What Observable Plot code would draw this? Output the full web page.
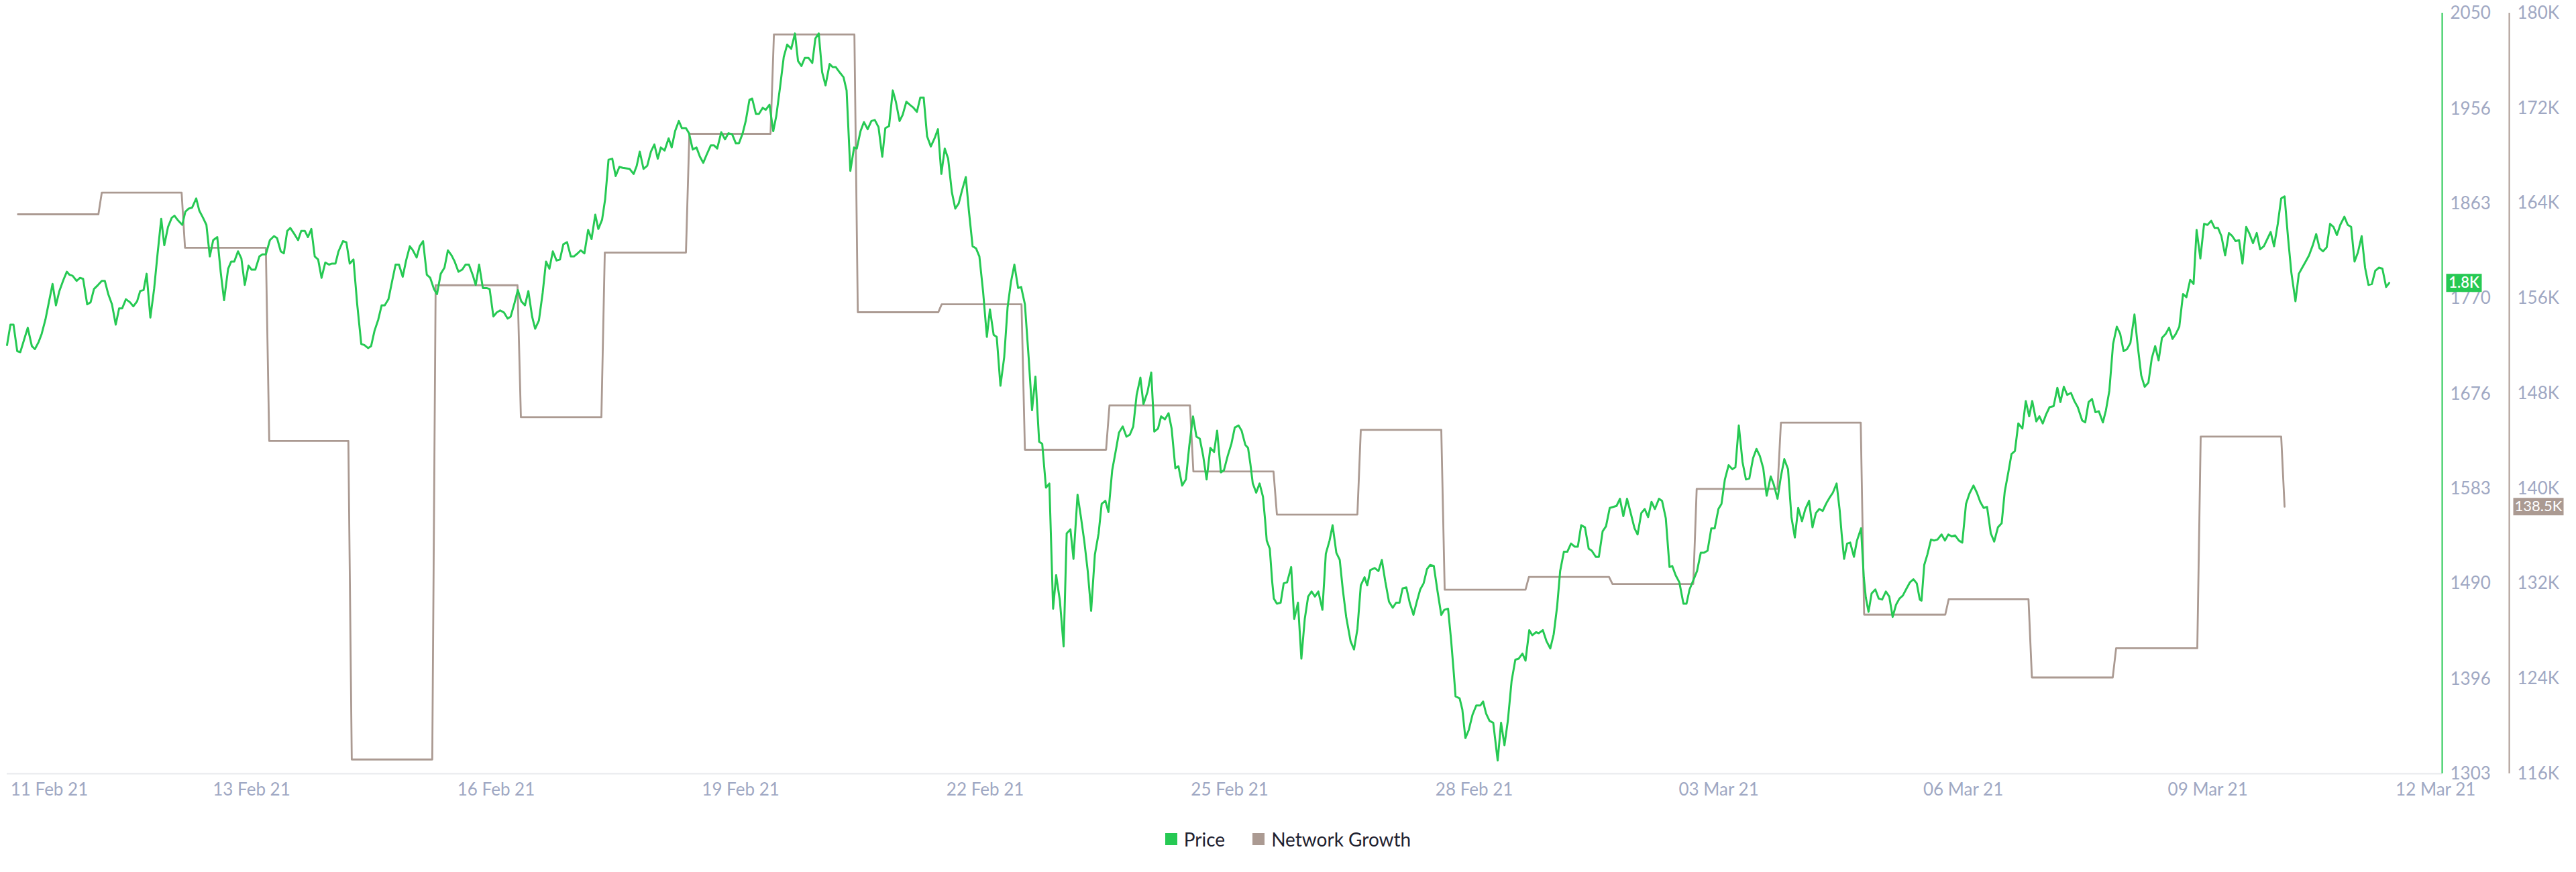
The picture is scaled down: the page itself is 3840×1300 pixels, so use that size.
<!DOCTYPE html>
<html><head><meta charset="utf-8">
<script src="https://cdn.jsdelivr.net/npm/d3@7"></script>
<script src="https://cdn.jsdelivr.net/npm/@observablehq/plot@0.6"></script>
<style>
body{margin:0;background:#fff;font-family:Lato,"Open Sans",sans-serif;}
#chart{position:relative;width:3840px;height:1210px;}
#chart svg{position:absolute;left:0;top:0;}
#legend{display:flex;justify-content:center;align-items:center;gap:41px;padding-top:27px;font-size:28px;color:#1f2230;line-height:28px;}
#legend .item{display:flex;align-items:center;gap:10px;}
#legend .sw{width:18px;height:18px;display:inline-block;}
</style></head><body>
<div id="chart"></div>
<div id="legend"></div>
<script>
// ---- data ----
const seriesNames = ["Price", "Network Growth"];
const seriesColors = ["#26c953", "#ab9a92"];
const startUTC = "2021-02-10T00:00Z";   // hour 0 of the series
const endHour = 717;                    // right edge of the time axis (hours after start)

// ETH price, [hours after start, USD]
const priceSeries = [
[0,1724],[1.0,1744],[1.9,1744],[3.0,1718],[3.9,1717],[5.0,1729],[6.1,1741],[7.3,1723],[8.2,1720],[9.3,1727],[10.2,1735],[11.3,1749],[12.2,1764],[13.4,1784],[14.4,1763],[15.4,1777],[16.6,1788],[17.6,1796],[18.4,1793],[19.3,1792],[20.5,1787],[21.5,1790],[22.4,1789],[23.6,1764],[24.6,1766],[25.6,1779],[26.8,1783],[27.9,1787],[28.8,1787],[29.8,1774],[30.9,1764],[32.0,1744],[33.0,1760],[33.9,1760],[35.0,1769],[36.2,1766],[37.2,1762],[38.3,1767],[39.2,1777],[40.2,1778],[41.1,1794],[42.2,1751],[43.3,1779],[44.3,1813],[45.4,1848],[46.3,1822],[47.4,1840],[48.5,1849],[49.3,1851],[50.2,1847],[51.6,1842],[52.5,1855],[53.5,1858],[54.5,1859],[55.7,1868],[56.6,1856],[57.7,1849],[58.7,1842],[59.7,1811],[60.7,1827],[61.9,1830],[62.9,1796],[63.9,1768],[65.1,1799],[66.0,1806],[66.9,1806],[68.0,1816],[69.0,1809],[70.0,1783],[71.1,1802],[72.0,1798],[73.1,1798],[74.3,1811],[75.2,1813],[76.2,1813],[77.4,1827],[78.6,1831],[79.5,1829],[80.6,1816],[81.5,1814],[82.5,1836],[83.4,1839],[84.6,1833],[85.7,1827],[86.6,1836],[87.7,1836],[88.6,1830],[89.6,1838],[90.6,1811],[91.6,1808],[92.6,1790],[93.7,1805],[94.8,1803],[95.7,1804],[96.7,1804],[97.6,1816],[98.9,1826],[99.9,1825],[100.9,1804],[102.0,1808],[103.1,1764],[104.3,1725],[105.2,1724],[106.3,1721],[107.2,1723],[108.2,1738],[109.3,1749],[110.3,1763],[111.2,1763],[112.3,1769],[113.4,1787],[114.4,1803],[115.4,1803],[116.5,1791],[117.5,1807],[118.6,1821],[119.5,1817],[120.6,1810],[121.5,1821],[122.5,1826],[123.6,1793],[124.6,1790],[125.7,1779],[126.6,1774],[127.7,1794],[128.8,1800],[129.8,1817],[130.9,1812],[131.8,1806],[132.9,1796],[134.0,1798],[135.0,1803],[136.0,1803],[137.1,1793],[138.0,1783],[139.0,1803],[140.1,1780],[141.2,1780],[142.1,1779],[143.2,1752],[144.2,1756],[145.2,1758],[146.3,1756],[147.4,1750],[148.3,1752],[149.4,1765],[150.4,1778],[151.4,1767],[152.5,1763],[153.5,1777],[154.6,1752],[155.5,1740],[156.6,1748],[157.7,1775],[158.7,1806],[159.7,1799],[160.7,1816],[161.8,1807],[162.8,1808],[163.8,1823],[164.9,1825],[166.0,1811],[166.9,1811],[168.0,1814],[168.9,1817],[170.0,1814],[171.1,1837],[172.1,1828],[173.2,1852],[174.1,1838],[175.2,1847],[176.1,1867],[177.1,1906],[178.2,1907],[179.2,1890],[180.3,1899],[181.3,1898],[183.3,1897],
[184.5,1892],[185.4,1900],[186.3,1914],[187.4,1897],[188.5,1900],[189.6,1914],[190.6,1921],[191.6,1907],[192.5,1918],[193.6,1915],[194.8,1927],[195.7,1918],[196.7,1934],[197.8,1944],[198.7,1937],[199.9,1937],[200.8,1932],[201.9,1916],[203.0,1918],[204.0,1909],[205.0,1903],[206.0,1911],[207.2,1920],[208.2,1920],[209.1,1917],[210.3,1933],[211.4,1926],[212.4,1932],[213.5,1931],[214.6,1922],[215.5,1922],[216.6,1932],[217.5,1944],[218.6,1965],[219.4,1966],[220.5,1951],[221.4,1951],[222.5,1957],[223.4,1955],[224.5,1960],[225.6,1934],[226.5,1949],[227.6,1977],[228.7,2007],[229.7,2019],[230.9,2015],[232.0,2030],[232.9,2003],[233.9,1998],[234.9,2006],[236.0,2006],[237.1,2001],[238.0,2025],[239.0,2030],[240.0,1992],[241.0,1979],[242.2,2000],[243.1,1997],[244.0,1997],[245.1,1992],[246.3,1987],[247.2,1974],[248.3,1895],[249.4,1918],[250.2,1917],[251.3,1934],[252.3,1943],[253.4,1936],[254.5,1944],[255.5,1945],[256.6,1938],[257.7,1909],[258.6,1937],[259.7,1939],[260.8,1974],[261.7,1963],[262.8,1944],[263.7,1950],[264.8,1963],[265.8,1960],[266.9,1957],[267.9,1953],[268.9,1967],[269.9,1967],[270.9,1929],[272.0,1919],[273.1,1927],[274.1,1936],[275.1,1892],[276.1,1917],[277.1,1907],[278.2,1874],[279.2,1858],[280.2,1863],[281.2,1876],[282.3,1889],[283.2,1856],[284.3,1821],[285.3,1819],[286.3,1811],[287.4,1776],[288.5,1732],[289.4,1759],[290.5,1734],[291.4,1732],[292.5,1684],[293.6,1712],[294.6,1761],[295.6,1786],[296.6,1803],[297.7,1780],[298.6,1781],[299.7,1764],[300.8,1712],[301.8,1660],[302.8,1693],[303.9,1629],[304.8,1627],[305.9,1584],[306.9,1588],[308.0,1465],[308.9,1498],[310.0,1473],[311.1,1428],[312.0,1539],[313.1,1543],[314.0,1514],[315.2,1577],[316.2,1555],[317.2,1531],[318.2,1502],[319.2,1463],[320.3,1518],[321.4,1539],[322.3,1568],[323.4,1571],[324.3,1560],[325.4,1601],[326.5,1621],[327.4,1638],[328.5,1644],[329.6,1634],[330.6,1636],[331.6,1644],[332.6,1675],[333.7,1692],[334.6,1666],[335.8,1678],[336.9,1697],[337.8,1639],[338.9,1642],[339.8,1654],[340.9,1651],[342.0,1657],[342.9,1642],[344.0,1603],[344.9,1605],[346.0,1586],[347.1,1592],[348.1,1625],[349.2,1654],[350.2,1634],[351.2,1632],[352.2,1615],[353.2,1592],[354.3,1623],[355.4,1619],[356.3,1640],[357.4,1599],[358.3,1601],[359.4,1615],[360.5,1627],[361.5,1643],[362.6,1645],[363.5,1640],[364.6,1626],[365.4,1623],
[366.1,1607],[366.8,1588],[367.8,1579],[368.8,1588],[369.8,1575],[370.4,1553],[370.9,1532],[371.8,1524],[372.5,1492],[373.0,1475],[373.9,1470],[375.0,1471],[375.9,1490],[376.9,1491],[378.1,1506],[379.0,1455],[380.1,1471],[381.1,1416],[382.1,1455],[383.1,1477],[384.1,1482],[385.1,1477],[386.1,1482],[387.3,1464],[388.3,1519],[389.4,1532],[390.3,1547],[391.4,1520],[392.4,1513],[393.3,1484],[394.3,1457],[395.6,1433],[396.6,1425],[397.6,1445],[398.6,1488],[399.7,1496],[400.5,1488],[401.4,1503],[402.7,1505],[403.8,1502],[404.8,1513],[405.8,1492],[406.9,1472],[408.0,1466],[409.0,1471],[410.0,1471],[410.9,1485],[412.0,1486],[413.0,1471],[414.1,1459],[415.1,1472],[416.1,1484],[417.1,1490],[418.1,1504],[419.0,1508],[420.1,1507],[421.2,1482],[422.3,1459],[423.2,1464],[424.3,1465],[425.2,1434],[426.0,1401],[426.5,1379],[427.7,1377],[428.5,1366],[429.4,1338],[430.4,1346],[431.5,1361],[432.6,1370],[433.8,1370],[434.6,1374],[435.5,1362],[436.5,1355],[437.6,1353],[438.9,1316],[439.9,1353],[440.9,1331],[441.9,1355],[443.0,1394],[444.1,1415],[445.1,1416],[446.2,1421],[447.1,1414],[448.2,1444],[449.1,1439],[450.2,1442],[451.0,1441],[452.2,1444],[453.3,1433],[454.4,1426],[455.4,1440],[456.4,1467],[457.3,1502],[458.4,1521],[459.4,1521],[460.5,1529],[461.6,1526],[462.5,1526],[463.5,1547],[464.6,1545],[465.7,1524],[466.6,1522],[467.8,1516],[468.7,1516],[469.8,1541],[470.8,1546],[471.9,1564],[472.9,1565],[473.9,1566],[474.9,1573],[475.9,1556],[477.0,1573],[478.0,1560],[479.2,1544],[480.1,1538],[481.2,1559],[482.2,1563],[483.2,1555],[484.2,1570],[485.2,1563],[486.4,1573],[487.3,1571],[488.4,1554],[489.5,1506],[490.3,1507],[491.3,1498],[492.4,1491],[493.6,1470],[494.5,1470],[495.4,1484],[496.5,1493],[497.6,1502],[498.7,1520],[499.6,1520],[500.7,1522],[501.8,1544],[502.8,1544],[503.9,1563],[504.8,1568],[505.8,1592],[506.9,1606],[508.0,1602],[508.9,1604],[509.9,1645],[511.0,1609],[512.0,1592],[513.0,1593],[514.1,1613],[515.1,1622],[516.1,1615],[517.1,1603],[518.1,1576],[519.3,1595],[520.2,1587],[521.3,1573],[522.3,1595],[523.3,1612],[524.4,1602],[525.4,1555],[526.4,1535],[527.4,1564],[528.5,1551],[529.5,1563],[530.6,1571],[531.6,1545],[532.6,1559],[533.6,1563],[534.6,1561],[535.3,1566],
[535.9,1570],[536.8,1575],[537.6,1579],[538.7,1588],[539.6,1562],[540.2,1538],[540.9,1514],[541.8,1529],[542.7,1530],[543.8,1516],[544.7,1532],[545.9,1544],[546.7,1496],[547.3,1476],[548.1,1462],[549.0,1480],[550.1,1484],[551.1,1475],[552.1,1474],[553.2,1482],[554.2,1477],[555.2,1457],[556.2,1469],[557.2,1475],[558.2,1478],[559.3,1485],[560.3,1491],[561.3,1494],[562.3,1490],[563.2,1474],[563.7,1473],[564.5,1508],[565.4,1518],[566.5,1533],[567.4,1532],[568.4,1533],[569.6,1538],[570.6,1532],[571.6,1538],[572.6,1536],[573.6,1537],[574.7,1532],[575.7,1530],[576.8,1568],[577.8,1578],[579.0,1586],[580.0,1579],[581.0,1570],[582.0,1564],[583.0,1565],[584.1,1539],[585.1,1531],[586.2,1545],[587.3,1549],[588.2,1580],[589.2,1598],[590.2,1617],[591.2,1620],[592.2,1647],[593.4,1642],[594.4,1669],[595.4,1654],[596.3,1669],[597.5,1649],[598.4,1654],[599.4,1647],[600.4,1656],[601.4,1663],[602.6,1664],[603.7,1682],[604.6,1668],[605.6,1683],[606.6,1675],[607.7,1677],[608.7,1669],[609.7,1663],[611.0,1650],[611.9,1648],[612.9,1668],[613.9,1671],[614.9,1658],[615.9,1659],[617.1,1648],[618.0,1660],[619.0,1679],[620.1,1725],[621.2,1742],[622.2,1735],[623.2,1718],[624.2,1720],[625.2,1726],[626.4,1754],[627.4,1722],[628.4,1694],[629.4,1683],[630.5,1687],[631.5,1711],[632.5,1723],[633.5,1709],[634.5,1731],[635.6,1735],[636.6,1741],[637.6,1730],[638.6,1735],[639.6,1742],[640.7,1774],[641.7,1771],[642.8,1788],[643.8,1784],[644.7,1837],[645.8,1809],[646.9,1843],[647.9,1842],[649.0,1846],[650.0,1839],[651.0,1839],[652.0,1831],[653.1,1812],[654.2,1834],[655.2,1831],[656.2,1826],[657.2,1827],[658.2,1804],[659.3,1840],[660.3,1833],[661.3,1824],[662.4,1834],[663.4,1818],[664.5,1821],[665.5,1828],[666.5,1835],[667.5,1821],[668.6,1843],[669.6,1868],[670.6,1870],[671.6,1830],[672.6,1795],[673.8,1767],[674.8,1794],[675.8,1800],[676.8,1806],[677.8,1812],[678.9,1822],[679.9,1833],[680.9,1819],[681.9,1816],[683.0,1820],[684.0,1843],[685.0,1840],[686.0,1832],[687.0,1842],[688.2,1850],[689.2,1842],[690.2,1840],[691.2,1806],[692.2,1815],[693.3,1831],[694.3,1800],[695.3,1783],[696.3,1784],[697.3,1797],[698.4,1800],[699.4,1799],[700.5,1781],[701.4,1785]
];

// Network growth: each level starts at this hour (after start) and holds until the next one
const growthStartHour = [3.2,27.9,52.4,77.2,101.5,126.2,151.3,176.0,200.9,225.8,250.5,275.2,299.7,324.6,349.3,373.9,398.6,423.3,448.1,472.7,497.5,522.3,546.8,571.7,596.2,621.0,645.9,670.6];
const growthValue = [163070,164900,160250,144000,117200,157100,146000,159850,169840,178200,154830,155500,143260,146990,141430,137810,144930,131480,132560,131970,139970,145540,129390,130680,124100,126560,144370,138470];

// axes
const priceTicks = [1303,1396,1490,1583,1676,1770,1863,1956,2050];
const growthTicks = [116000,124000,132000,140000,148000,156000,164000,172000,180000];
const growthTickLabels = ["116K","124K","132K","140K","148K","156K","164K","172K","180K"];
const xTickDates = ["2021-02-11","2021-02-13","2021-02-16","2021-02-19","2021-02-22","2021-02-25","2021-02-28","2021-03-03","2021-03-06","2021-03-09","2021-03-12"];
const xTickLabels = ["11 Feb 21","13 Feb 21","16 Feb 21","19 Feb 21","22 Feb 21","25 Feb 21","28 Feb 21","03 Mar 21","06 Mar 21","09 Mar 21","12 Mar 21"];

// ---- build ----
const t0 = new Date(startUTC).getTime();
const atHour = h => new Date(t0 + h * 3600e3);
const xDomain = [atHour(0), atHour(endHour)];
const price = priceSeries.map(([h, p]) => ({date: atHour(h), value: p}));
const growth = [];
growthStartHour.forEach((h, i) => {
  growth.push({date: atHour(h), value: growthValue[i]});
  if (i < growthStartHour.length - 1) growth.push({date: atHour(growthStartHour[i + 1] - 1), value: growthValue[i]});
});
const xTicks = xTickDates.map((d, i) => ({date: new Date(d + "T00:00Z"), label: xTickLabels[i]}));
const lastPrice = price[price.length - 1];
const lastGrowth = growth[growth.length - 1];

const [green, brown] = seriesColors;
const tickColor = "#9fa8c3";
const W = 3840, H = 1210;
const margins = {marginLeft: 10, marginRight: 200, marginTop: 19, marginBottom: 57};
const boxSymbol = (w, h) => ({draw(ctx) { ctx.rect(-w / 2, -h / 2, w, h); }});
const baseStyle = {background: "transparent", fontFamily: "Lato, 'Open Sans', sans-serif", overflow: "visible"};
const xLabelOpts = {x: "date", text: "label", frameAnchor: "bottom", lineAnchor: "middle", textAnchor: "middle", dy: 24, fill: tickColor, fontSize: 26};

const growthPlot = Plot.plot({
  width: W, height: H, ...margins, style: baseStyle,
  x: {type: "utc", domain: xDomain, axis: null},
  y: {domain: [116000, 180000], axis: null},
  marks: [
    Plot.ruleX([xDomain[1]], {y1: 116000, y2: 180000, dx: 100, stroke: brown, strokeWidth: 2}),
    Plot.text(growthTicks, {y: d => d, text: (d, i) => growthTickLabels[i], frameAnchor: "right", dx: 112, textAnchor: "start", lineAnchor: "middle", fill: tickColor, fontSize: 26}),
    Plot.line(growth, {x: "date", y: "value", stroke: brown, strokeWidth: 2.8}),
    Plot.dot([lastGrowth], {y: "value", frameAnchor: "right", dx: 143.5, symbol: boxSymbol(75, 26), fill: brown, stroke: "none"}),
    Plot.text([lastGrowth], {y: "value", text: d => (d.value / 1000).toFixed(1) + "K", frameAnchor: "right", dx: 143.5, textAnchor: "middle", lineAnchor: "middle", fill: "white", fontSize: 22})
  ]
});

const pricePlot = Plot.plot({
  width: W, height: H, ...margins, style: baseStyle,
  x: {type: "utc", domain: xDomain, axis: null},
  y: {domain: [1303, 2050], axis: null},
  marks: [
    Plot.ruleY([1303], {stroke: "#e8e9ed", strokeWidth: 2}),
    Plot.ruleX([xDomain[1]], {y1: 1303, y2: 2050, stroke: green, strokeWidth: 2}),
    Plot.text(priceTicks, {y: d => d, text: d => String(d), frameAnchor: "right", dx: 12, textAnchor: "start", lineAnchor: "middle", fill: tickColor, fontSize: 26}),
    Plot.text(xTicks.slice(1, -1), xLabelOpts),
    Plot.text(xTicks.slice(0, 1), {...xLabelOpts, dx: -58.5}),
    Plot.text(xTicks.slice(-1), {...xLabelOpts, dx: -25}),
    Plot.line(price, {x: "date", y: "value", stroke: green, strokeWidth: 3}),
    Plot.dot([lastPrice], {y: "value", frameAnchor: "right", dx: 32.5, symbol: boxSymbol(53, 27), fill: green, stroke: "none"}),
    Plot.text([lastPrice], {y: "value", text: d => (d.value / 1000).toFixed(1) + "K", frameAnchor: "right", dx: 32.5, textAnchor: "middle", lineAnchor: "middle", fill: "white", fontSize: 22, fontWeight: 600})
  ]
});

const chart = document.getElementById("chart");
chart.appendChild(growthPlot);
chart.appendChild(pricePlot);

const legend = document.getElementById("legend");
seriesNames.forEach((name, i) => {
  const item = document.createElement("div");
  item.className = "item";
  const sw = document.createElement("span");
  sw.className = "sw";
  sw.style.background = seriesColors[i];
  const label = document.createElement("span");
  label.textContent = name;
  item.appendChild(sw);
  item.appendChild(label);
  legend.appendChild(item);
});
</script></body></html>
